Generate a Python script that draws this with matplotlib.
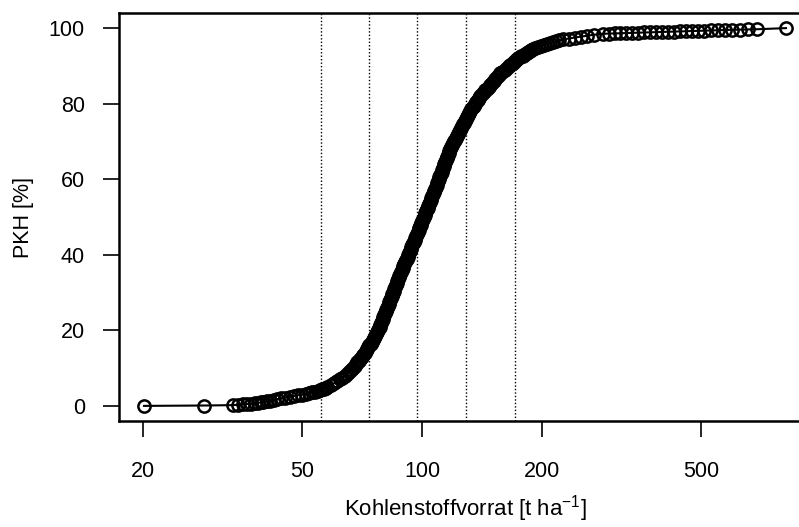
import matplotlib
matplotlib.use("Agg")
import matplotlib.pyplot as plt
from matplotlib.ticker import FixedLocator, NullLocator, FixedFormatter

plt.rcParams['font.family'] = ['Liberation Sans', 'DejaVu Sans']
plt.rcParams['mathtext.fontset'] = 'custom'
plt.rcParams['mathtext.rm'] = 'Liberation Sans'
plt.rcParams['mathtext.it'] = 'Liberation Sans'
plt.rcParams['mathtext.bf'] = 'Liberation Sans'

# cumulative share PKH [%] and Kohlenstoffvorrat [t/ha]
pkh = [
    0.0, 0.1, 0.2, 0.3, 0.4, 0.5, 0.6, 0.7, 0.8, 0.9,
    1.0, 1.2, 1.4, 1.6, 1.8, 2.0, 2.2, 2.4, 2.6, 2.8,
    3.0, 3.2, 3.4, 3.6, 3.8, 4.0, 4.2, 4.4, 4.6, 4.8,
    5.0, 5.5, 6.0, 6.5, 7.0, 7.5, 8.0, 8.5, 9.0, 9.5,
    10.0, 10.5, 11.0, 11.5, 12.0, 12.5, 13.0, 13.5, 14.0, 14.5,
    15.0, 15.5, 16.0, 16.5, 17.0, 17.5, 18.0, 18.5, 19.0, 19.5,
    20.0, 20.5, 21.0, 21.5, 22.0, 22.5, 23.0, 23.5, 24.0, 24.5,
    25.0, 25.5, 26.0, 26.5, 27.0, 27.5, 28.0, 28.5, 29.0, 29.5,
    30.0, 30.5, 31.0, 31.5, 32.0, 32.5, 33.0, 33.5, 34.0, 34.5,
    35.0, 35.5, 36.0, 36.5, 37.0, 37.5, 38.0, 38.5, 39.0, 39.5,
    40.0, 40.5, 41.0, 41.5, 42.0, 42.5, 43.0, 43.5, 44.0, 44.5,
    45.0, 45.5, 46.0, 46.5, 47.0, 47.5, 48.0, 48.5, 49.0, 49.5,
    50.0, 50.5, 51.0, 51.5, 52.0, 52.5, 53.0, 53.5, 54.0, 54.5,
    55.0, 55.5, 56.0, 56.5, 57.0, 57.5, 58.0, 58.5, 59.0, 59.5,
    60.0, 60.5, 61.0, 61.5, 62.0, 62.5, 63.0, 63.5, 64.0, 64.5,
    65.0, 65.5, 66.0, 66.5, 67.0, 67.5, 68.0, 68.5, 69.0, 69.5,
    70.0, 70.5, 71.0, 71.5, 72.0, 72.5, 73.0, 73.5, 74.0, 74.5,
    75.0, 75.5, 76.0, 76.5, 77.0, 77.5, 78.0, 78.5, 79.0, 79.5,
    80.0, 80.5, 81.0, 81.5, 82.0, 82.5, 83.0, 83.5, 84.0, 84.5,
    85.0, 85.5, 86.0, 86.5, 87.0, 87.5, 88.0, 88.5, 89.0, 89.5,
    90.0, 90.25, 90.5, 90.75, 91.0, 91.25, 91.5, 91.75, 92.0, 92.25,
    92.5, 92.75, 93.0, 93.25, 93.5, 93.75, 94.0, 94.25, 94.5, 94.75,
    95.0, 95.25, 95.5, 95.75, 96.0, 96.25, 96.5, 96.75, 97.0, 97.25,
    97.5, 97.75, 98.0, 98.25, 98.5, 98.55, 98.6, 98.65, 98.7, 98.75,
    98.8, 98.85, 98.9, 98.95, 99.0, 99.05, 99.1, 99.15, 99.2, 99.25,
    99.3, 99.35, 99.4, 99.45, 99.5, 99.55, 99.6, 99.65, 99.7, 100.0]
vorrat = [
    20.1, 28.4, 33.6, 34.6, 35.6, 36.4, 37.3, 38.2, 38.8, 39.4,
    40.0, 40.8, 41.6, 42.5, 43.4, 44.3, 45.4, 46.6, 47.8, 48.9,
    50.0, 51.1, 52.2, 53.1, 54.0, 54.9, 55.5, 56.1, 56.7, 57.3,
    57.8, 59.0, 60.2, 61.3, 62.3, 63.2, 64.1, 64.9, 65.6, 66.4,
    67.2, 67.8, 68.3, 68.9, 69.5, 70.1, 70.7, 71.25, 71.8, 72.3,
    72.8, 73.3, 73.8, 74.3, 74.8, 75.3, 75.8, 76.25, 76.7, 77.15,
    77.6, 77.95, 78.3, 78.65, 79.0, 79.35, 79.7, 80.05, 80.4, 80.75,
    81.1, 81.45, 81.8, 82.15, 82.5, 82.85, 83.2, 83.55, 83.9, 84.25,
    84.6, 84.95, 85.3, 85.65, 86.0, 86.35, 86.7, 87.05, 87.4, 87.75,
    88.1, 88.5, 89.0, 89.4, 89.8, 90.3, 90.7, 91.1, 91.5, 92.0,
    92.4, 92.8, 93.3, 93.7, 94.1, 94.6, 95.0, 95.4, 95.8, 96.3,
    96.7, 97.1, 97.6, 98.0, 98.4, 98.9, 99.3, 99.7, 100.1, 100.6,
    101.0, 101.5, 101.9, 102.4, 102.8, 103.3, 103.8, 104.2, 104.7, 105.1,
    105.6, 106.0, 106.5, 107.0, 107.4, 107.9, 108.3, 108.8, 109.3, 109.7,
    110.2, 110.6, 111.1, 111.5, 112.0, 112.5, 112.9, 113.4, 113.8, 114.3,
    114.8, 115.2, 115.7, 116.1, 116.6, 117.0, 117.5, 118.2, 118.9, 119.7,
    120.4, 121.1, 121.8, 122.5, 123.3, 124.0, 124.7, 125.4, 126.1, 126.9,
    127.6, 128.3, 129.0, 129.7, 130.4, 131.2, 131.9, 132.9, 133.9, 134.9,
    135.85, 136.8, 137.8, 138.8, 139.8, 141.2, 142.65, 144.1, 145.5, 146.9,
    148.35, 149.8, 151.2, 152.6, 154.05, 155.5, 156.9, 158.9, 161.0, 163.2,
    165.5, 166.6, 167.7, 168.9, 170.0, 171.1, 172.2, 173.4, 174.5, 175.8,
    177.2, 178.6, 180.0, 181.5, 183.0, 184.5, 186.0, 188.0, 190.0, 192.5,
    195.5, 198.5, 202.0, 205.5, 209.3, 213.0, 217.0, 221.0, 226.0, 233.5,
    241.5, 250.5, 259.0, 270.0, 284.2, 294.2, 304.6, 313.5, 324.5, 336.0,
    347.8, 360.1, 372.8, 385.9, 399.6, 413.5, 428.1, 443.3, 458.9, 475.1,
    491.8, 509.1, 530.1, 551.9, 574.6, 598.4, 626.6, 656.3, 691.1, 817.1]
assert len(pkh) == len(vorrat)

grenzen = [55.7, 73.5, 97.0, 128.9, 171.4]
x_ticks = [20, 50, 100, 200, 500]
x_labels = ["20", "50", "100", "200", "500"]
y_ticks = [0, 20, 40, 60, 80, 100]

fig = plt.figure(figsize=(7.99, 5.27), dpi=100)
ax = fig.add_axes([119/799, 106/527, (811-119)/799, (421-13)/527])

for g in grenzen:
    ax.axvline(g, color='black', lw=1.0, ls=(0, (1, 1.5)), zorder=1)

ax.plot(vorrat, pkh, '-', color='black', lw=1.5, marker='o', ms=8.8,
        mfc='none', mec='black', mew=1.8, zorder=3)

ax.set_xscale('log')
ax.set_xlim(17.4, 944.0)
ax.set_ylim(-4, 104)
ax.xaxis.set_major_locator(FixedLocator(x_ticks))
ax.xaxis.set_major_formatter(FixedFormatter(x_labels))
ax.xaxis.set_minor_locator(NullLocator())
ax.set_yticks(y_ticks)

for s in ax.spines.values():
    s.set_linewidth(1.8)
ax.tick_params(axis='both', which='major', length=11.5, width=1.2,
               labelsize=15.5, color='black')
ax.tick_params(axis='x', pad=17.5)
ax.tick_params(axis='y', pad=13)

ax.set_xlabel(r"Kohlenstoffvorrat [t ha$^{-1}$]", fontsize=16, labelpad=8)
ax.set_ylabel("PKH [%]", fontsize=15.5, labelpad=11)

fig.savefig("out.png", dpi=100)
